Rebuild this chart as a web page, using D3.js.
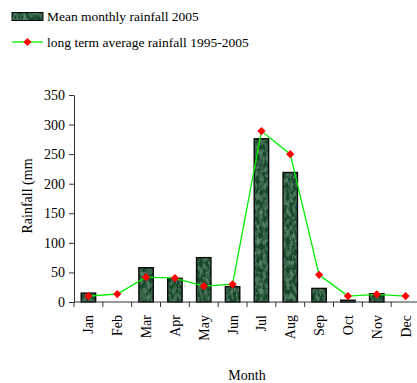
<!DOCTYPE html>
<html>
<head>
<meta charset="utf-8">
<script src="https://cdn.jsdelivr.net/npm/d3@7"></script>
<style>
  html, body { margin: 0; padding: 0; background: #fff; }
  svg { display: block; font-family: "Liberation Serif", "Times New Roman", serif; }
</style>
</head>
<body>
<svg id="chart" width="417" height="383"></svg>
<script>
// Monthly rainfall (mm)
const months = ["Jan","Feb","Mar","Apr","May","Jun","Jul","Aug","Sep","Oct","Nov","Dec"];
const rainfall2005 = [15, 0, 58, 40, 75, 26, 276, 219, 23, 3, 14, 0];
const longTermAvg = [10, 13.5, 42, 40.5, 27, 30, 289, 250, 46, 10, 13, 10];
const yTicks = [0, 50, 100, 150, 200, 250, 300, 350];

const svg = d3.select("#chart");

const plot = { left: 74, right: 420, top: 95, bottom: 302 };

const x = d3.scaleBand().domain(months).range([plot.left, plot.right]).paddingInner(0).paddingOuter(0);
const y = d3.scaleLinear().domain([0, 350]).range([plot.bottom, plot.top]);

// Speckled dark-green fill for the bars
const defs = svg.append("defs");
const filt = defs.append("filter").attr("id", "marble")
  .attr("x", 0).attr("y", 0).attr("width", 1).attr("height", 1);
filt.append("feTurbulence").attr("type", "fractalNoise")
  .attr("baseFrequency", "0.3 0.18").attr("numOctaves", 3).attr("seed", 7).attr("result", "noise");
filt.append("feColorMatrix").attr("in", "noise").attr("type", "matrix")
  .attr("values", "0 0 0 0 0.24  0 0 0 0 0.50  0 0 0 0 0.32  1.0 0 0 0 -0.38")
  .attr("result", "streaks");
filt.append("feFlood").attr("flood-color", "#18472a").attr("result", "base");
filt.append("feComposite").attr("in", "base").attr("in2", "SourceGraphic").attr("operator", "in").attr("result", "baseClip");
filt.append("feComposite").attr("in", "streaks").attr("in2", "SourceGraphic").attr("operator", "in").attr("result", "streakClip");
const merge = filt.append("feMerge");
merge.append("feMergeNode").attr("in", "baseClip");
merge.append("feMergeNode").attr("in", "streakClip");

// Bars
const barW = x.bandwidth() * 0.5;
const barData = months.map((m, i) => ({ m, v: rainfall2005[i] })).filter(d => d.v > 0);
const bars = svg.append("g");
bars.selectAll("rect.fill").data(barData).join("rect")
  .attr("class", "fill")
  .attr("x", d => x(d.m) + (x.bandwidth() - barW) / 2)
  .attr("y", d => y(d.v))
  .attr("width", barW)
  .attr("height", d => y(0) - y(d.v))
  .attr("fill", "#18472a")
  .attr("filter", "url(#marble)");
bars.selectAll("rect.edge").data(barData).join("rect")
  .attr("class", "edge")
  .attr("x", d => x(d.m) + (x.bandwidth() - barW) / 2)
  .attr("y", d => y(d.v))
  .attr("width", barW)
  .attr("height", d => y(0) - y(d.v))
  .attr("fill", "none")
  .attr("stroke", "#0a0a0a")
  .attr("stroke-width", 1.4);

// Y axis
const yAxis = svg.append("g").attr("transform", `translate(${plot.left},0)`)
  .call(d3.axisLeft(y).tickValues(yTicks).tickSize(5).tickPadding(4).tickSizeOuter(0));
yAxis.select(".domain").attr("stroke", "#333");
yAxis.selectAll(".tick line").attr("stroke", "#333");
yAxis.selectAll(".tick text").attr("font-size", 14).attr("fill", "#000")
  .attr("font-family", "Liberation Serif, Times New Roman, serif");

// X axis: line with tick marks at the category boundaries
const xg = svg.append("g");
xg.append("line").attr("x1", plot.left).attr("x2", plot.right)
  .attr("y1", y(0)).attr("y2", y(0)).attr("stroke", "#333");
xg.selectAll("line.tk").data(months.map(m => x(m)).concat([x(months[11]) + x.bandwidth()]))
  .join("line")
  .attr("class", "tk")
  .attr("x1", d => d).attr("x2", d => d)
  .attr("y1", y(0)).attr("y2", y(0) + 5).attr("stroke", "#333");
xg.selectAll("text").data(months).join("text")
  .attr("transform", d => `translate(${x(d) + x.bandwidth() / 2 + 5},${y(0) + 13}) rotate(-90)`)
  .attr("text-anchor", "end")
  .attr("font-size", 14)
  .text(d => d);

// Long-term average line with diamond markers
const line = d3.line().x((d, i) => x(months[i]) + x.bandwidth() / 2).y(d => y(d));
svg.append("path").datum(longTermAvg).attr("d", line)
  .attr("fill", "none").attr("stroke", "#00ee00").attr("stroke-width", 1.3);
svg.append("g").selectAll("path").data(longTermAvg).join("path")
  .attr("d", d3.symbol(d3.symbolSquare, 34))
  .attr("transform", (d, i) => `translate(${x(months[i]) + x.bandwidth() / 2},${y(d)}) rotate(45)`)
  .attr("fill", "#ff0000");

// Axis titles
svg.append("text").attr("transform", `translate(32,196) rotate(-90)`)
  .attr("text-anchor", "middle").attr("font-size", 14).text("Rainfall (mm");
svg.append("text").attr("x", 247).attr("y", 380)
  .attr("text-anchor", "middle").attr("font-size", 14).text("Month");

// Legend
const lg = svg.append("g");
lg.append("rect").attr("x", 12).attr("y", 12.5).attr("width", 31).attr("height", 8)
  .attr("fill", "#18472a").attr("filter", "url(#marble)");
lg.append("rect").attr("x", 12).attr("y", 12.5).attr("width", 31).attr("height", 8)
  .attr("fill", "none").attr("stroke", "#0a0a0a").attr("stroke-width", 1);
lg.append("text").attr("x", 47).attr("y", 21).attr("font-size", 13.5).text("Mean monthly rainfall 2005");
lg.append("line").attr("x1", 12).attr("x2", 43).attr("y1", 42).attr("y2", 42)
  .attr("stroke", "#00ee00").attr("stroke-width", 1.3);
lg.append("path").attr("d", d3.symbol(d3.symbolSquare, 34))
  .attr("transform", "translate(27.5,42) rotate(45)").attr("fill", "#ff0000");
lg.append("text").attr("x", 47).attr("y", 47).attr("font-size", 13.5).text("long term average rainfall 1995-2005");
</script>
</body>
</html>
